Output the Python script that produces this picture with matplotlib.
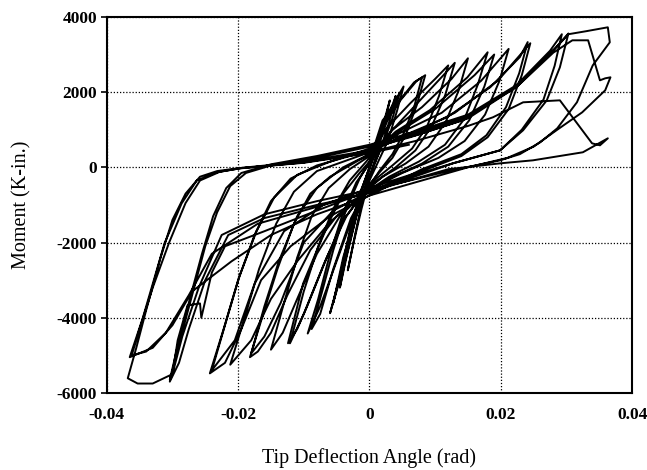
import matplotlib.pyplot as plt

plt.rcParams['font.family'] = ['Liberation Serif', 'DejaVu Serif']
plt.rcParams['axes.unicode_minus'] = False

# Tip rotation (rad) and moment (K-in.), in loading order
# early cycles (small amplitudes)
rot_small = [0, 0.0012, 0.0025, 0.0031, 0.0022, 0.0010, 0.0, -0.0012, -0.0024, -0.0033, -0.0022, -0.0010, 0.0,
             0.0015, 0.0032, 0.0046, 0.0035, 0.0020, 0.0005, 0.0, -0.0020, -0.0040, -0.0060, -0.0045, -0.0030, -0.0015, 0.0,
             0.0012, 0.0030, 0.0052, 0.0042, 0.0028, 0.0012, 0.0, -0.0020, -0.0040, -0.0055, -0.0042, -0.0028, -0.0012, 0.0,
             0.0015, 0.0030, 0.0040, 0.0030, 0.0015, 0.0, -0.0018, -0.0035, -0.0045, -0.0035, -0.0020, -0.0008, 0.0,
             0.0008, 0.0020, 0.0046, 0.0068, 0.0080, 0.0068, 0.0052, 0.0035, 0.0015, 0.0, -0.0025, -0.0050, -0.0075,
             -0.0094, -0.0078, -0.0060, -0.0040, -0.0020, 0.0,
             0.0020, 0.0048, 0.0072, 0.0085, 0.0072, 0.0055, 0.0035, 0.0012, 0.0, -0.0028, -0.0055, -0.0075, -0.0088,
             -0.0072, -0.0055, -0.0035, -0.0015, 0.0,
             0.0024, 0.0062, 0.0100, 0.0120, 0.0106, 0.0088, 0.0065, 0.0035, 0.0, -0.0035, -0.0065, -0.0095, -0.0110,
             -0.0124, -0.0101, -0.0080, -0.0060, -0.0040, -0.0015, 0.0,
             0.0030, 0.0070, 0.0110, 0.0130, 0.0115, 0.0095, 0.0070, 0.0040, 0.0, -0.0040, -0.0070, -0.0100, -0.0121,
             -0.0100, -0.0078, -0.0055, -0.0030, 0.0]
mom_small = [0, 700, 1400, 1780, 1100, 300, -300, -1100, -2000, -2740, -1800, -800, -50,
             700, 1450, 1970, 1300, 600, 0, -300, -1300, -2700, -3880, -2900, -1700, -700, -50,
             700, 1500, 2150, 1500, 700, 100, -350, -1200, -2400, -3600, -2700, -1600, -600, 0,
             800, 1400, 1900, 1200, 400, -250, -1100, -2300, -3200, -2400, -1300, -400, 0,
             600, 1250, 1780, 2260, 2390, 1600, 900, 350, -100, -500, -1300, -2500, -3700,
             -4420, -3500, -2300, -1200, -400, 100,
             1100, 1800, 2300, 2450, 1650, 850, 250, -200, -450, -1350, -2700, -3900, -4300,
             -3300, -2200, -1100, -300, 150,
             1000, 1700, 2350, 2710, 1900, 1100, 500, 50, -450, -1300, -2400, -3700, -4300,
             -4680, -3090, -2210, -1400, -700, -150, 150,
             900, 1650, 2400, 2780, 1900, 1100, 450, 0, -500, -1400, -2600, -3900, -4680,
             -3300, -2100, -1100, -350, 250]

# intermediate cycles (~0.015 to ~0.024 rad)
rot_mid = [0.0035, 0.0080, 0.0125, 0.0150, 0.0136, 0.0116, 0.0090, 0.0055, 0.0020, 0.0, -0.0045, -0.0080, -0.0110,
           -0.0132, -0.0150, -0.0130, -0.0110, -0.0088, -0.0062, -0.0030, 0.0,
           0.0040, 0.0092, 0.0149, 0.0180, 0.0165, 0.0145, 0.0115, 0.0075, 0.0030, 0.0, -0.0050, -0.0090, -0.0125,
           -0.0150, -0.0170, -0.0182, -0.0160, -0.0140, -0.0115, -0.0090, -0.0060, -0.0030, 0.0,
           0.0045, 0.0100, 0.0160, 0.0190, 0.0175, 0.0152, 0.0120, 0.0080, 0.0030, 0.0, -0.0055, -0.0100, -0.0135,
           -0.0160, -0.0180, -0.0160, -0.0138, -0.0110, -0.0080, -0.0040, 0.0,
           0.0045, 0.0110, 0.0170, 0.0212, 0.0198, 0.0176, 0.0145, 0.0105, 0.0050, 0.0, -0.0060, -0.0110, -0.0150,
           -0.0180, -0.0212, -0.0190, -0.0168, -0.0142, -0.0115, -0.0080, -0.0040, 0.0,
           0.0046, 0.0118, 0.0184, 0.0229, 0.0241, 0.0228, 0.0208, 0.0178, 0.0140, 0.0080, 0.0, -0.0060, -0.0120,
           -0.0165, -0.0195, -0.0220, -0.0243, -0.0222, -0.0200, -0.0175, -0.0150, -0.0120, -0.0080, 0.0,
           0.0060, 0.0130, 0.0195, 0.0245, 0.0232, 0.0212, 0.0180, 0.0140, 0.0080, 0.0, -0.0070, -0.0130, -0.0175,
           -0.0205, -0.0240, -0.0220, -0.0198, -0.0172, -0.0145, -0.0110, -0.0060, 0.0]
mom_mid = [1000, 1600, 2350, 2900, 2050, 1200, 550, 100, -250, -550, -1300, -2300, -3500,
           -4400, -4850, -3600, -2400, -1300, -550, -50, 300,
           950, 1520, 2390, 3060, 2200, 1300, 600, 150, -250, -600, -1300, -2200, -3400,
           -4400, -4900, -5050, -3800, -2700, -1500, -700, -250, 50, 350,
           950, 1550, 2450, 3000, 2150, 1250, 550, 100, -300, -650, -1150, -2000, -3600,
           -4500, -4950, -3700, -2500, -1300, -550, 0, 350,
           900, 1450, 2300, 3150, 2300, 1400, 700, 250, -150, -600, -1450, -2500, -3500,
           -4600, -5250, -4000, -2700, -1500, -650, -100, 150, 400,
           800, 1330, 2130, 2930, 3330, 2500, 1600, 850, 350, -50, -750, -1300, -2100,
           -3000, -4300, -5200, -5480, -4300, -3000, -1800, -900, -300, 50, 450,
           850, 1450, 2300, 3300, 2450, 1550, 800, 300, -100, -550, -1000, -1700, -3100,
           -4600, -5400, -4200, -2900, -1700, -800, -200, 150, 500]

# ~0.03 rad cycles
rot_large = [0.0062, 0.0142, 0.0219, 0.0275, 0.0293, 0.0282, 0.0265, 0.0232, 0.0199, 0.0127, 0.0060, 0.0,
             -0.0080, -0.0160, -0.0215, -0.0250, -0.0275, -0.0290, -0.0304, -0.0290, -0.0270, -0.0250, -0.0232,
             -0.0212, -0.0188, -0.0150, -0.0080, 0.0,
             0.0070, 0.0150, 0.0225, 0.0282, 0.0303, 0.0290, 0.0270, 0.0234, 0.0199, 0.0127, 0.0060, 0.0,
             -0.0080, -0.0160, -0.0220, -0.0240, -0.0256, -0.0258, -0.0277, -0.0292, -0.0300, -0.0304, -0.0290,
             -0.0272, -0.0255, -0.0238, -0.0218, -0.0195, -0.0150, -0.0080, 0.0]
mom_large = [800, 1250, 2100, 3100, 3540, 2700, 1800, 1000, 452, 106, -300, -690,
             -1000, -1350, -1800, -3000, -4300, -5200, -5700, -4700, -3400, -2100, -1200,
             -500, -150, 50, 250, 550,
             850, 1300, 2150, 3150, 3560, 2660, 1780, 985, 452, 106, -250, -620,
             -1150, -1700, -2100, -2800, -4000, -3620, -3670, -4600, -5500, -5650, -4600,
             -3400, -2300, -1300, -550, -150, 80, 300, 600]

# last cycles with strength loss (~0.037 rad)
rot_final = [0.0070, 0.0150, 0.0230, 0.0285, 0.0303, 0.0330, 0.0363, 0.0366, 0.0340, 0.0316, 0.0286, 0.0260,
             0.0229, 0.0199, 0.0120, 0.0050, 0.0, -0.0080, -0.0160, -0.0225, -0.0260, -0.0285, -0.0300, -0.0330,
             -0.0353, -0.0368, -0.0355, -0.0340, -0.0318, -0.0300, -0.0280, -0.0258, -0.0232, -0.0198, -0.0100, 0.0,
             0.0070, 0.0150, 0.0225, 0.0280, 0.0309, 0.0333, 0.0351, 0.0359, 0.0367, 0.0359, 0.0324, 0.0286,
             0.0250, 0.0210, 0.0150, 0.0070, 0.0, -0.0080, -0.0150, -0.0210, -0.0270, -0.0300, -0.0330, -0.0365,
             -0.0345, -0.0312, -0.0286, -0.0263, -0.0232, -0.0198, -0.0100, 0.0,
             0.0070, 0.0150, 0.0188, 0.0234, 0.0290, 0.0339, 0.0351, 0.0363, 0.0325, 0.0249, 0.0199, 0.0120,
             0.0050, 0.0, -0.0080, -0.0170, -0.0240, -0.0275, -0.0310, -0.0340, -0.0362, -0.0350, -0.0330,
             -0.0305, -0.0280, -0.0258, -0.0228, -0.0195, -0.0100, 0.0, 0.0060]
mom_final = [950, 1400, 2250, 3200, 3540, 3620, 3724, 3325, 2710, 1730, 1037, 665,
             350, 186, -100, -400, -600, -900, -1250, -1800, -3200, -4500, -5500, -5750,
             -5750, -5610, -4800, -3800, -2400, -1400, -700, -250, -100, -20, 150, 450,
             900, 1350, 2150, 3050, 3378, 3378, 2314, 2367, 2394, 2048, 1463, 1000,
             550, 250, 0, -400, -750, -1250, -1800, -2500, -3300, -4200, -4800, -5050,
             -4000, -2020, -960, -350, -130, -30, 130, 400,
             700, 1100, 1330, 1729, 1782, 638, 585, 771, 400, 186, 106, -50,
             -400, -650, -1050, -1500, -2300, -3400, -4400, -4900, -5000, -4300, -3200,
             -2000, -950, -350, -120, -20, 120, 380, 600]

x_ticks = [-0.04, -0.02, 0, 0.02, 0.04]
x_labels = ['-0.04', '-0.02', '0', '0.02', '0.04']
y_ticks = [-6000, -4000, -2000, 0, 2000, 4000]

rotation = rot_small + rot_mid + rot_large + rot_final
moment = mom_small + mom_mid + mom_large + mom_final

fig = plt.figure(figsize=(6.47, 4.70), dpi=100)
ax = fig.add_axes([0.165, 0.164, 0.812, 0.800])

ax.plot(rotation, moment, color='black', linewidth=1.4, solid_joinstyle='round')

ax.set_xlim(-0.04, 0.04)
ax.set_ylim(-6000, 4000)
ax.set_xticks(x_ticks)
ax.set_xticklabels(x_labels)
ax.set_yticks(y_ticks)
ax.grid(True, color='black', linestyle=(0, (1, 1.5)), linewidth=0.9)

for lbl in ax.get_xticklabels() + ax.get_yticklabels():
    lbl.set_fontweight('bold')
    lbl.set_fontsize(12.5)
ax.tick_params(direction='out', length=4, width=1.2, pad=3)
ax.tick_params(axis='x', length=0, pad=10)
for sp in ax.spines.values():
    sp.set_linewidth(1.5)

ax.set_xlabel('Tip Deflection Angle (rad)', fontsize=14.5, labelpad=18)
ax.set_ylabel('Moment (K-in.)', fontsize=14.5, labelpad=18)

plt.savefig('out.png', dpi=100)
